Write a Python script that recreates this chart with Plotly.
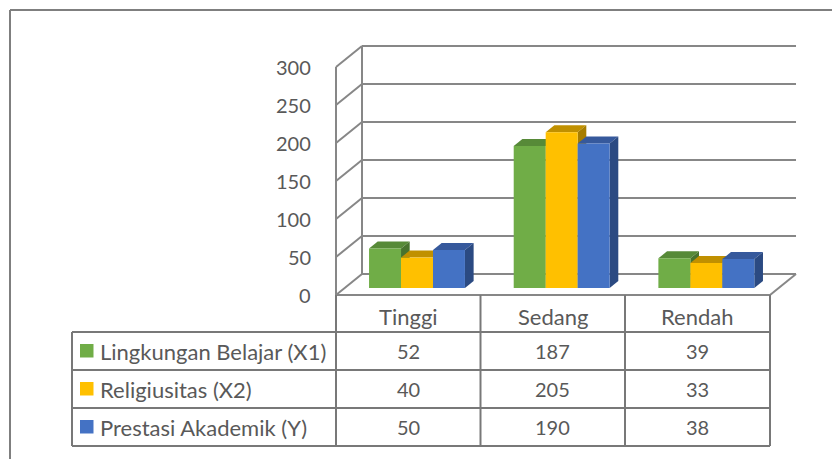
import plotly.graph_objects as go

# ---- data ----
categories = ["Tinggi", "Sedang", "Rendah"]
series_names = ["Lingkungan Belajar (X1)", "Religiusitas (X2)", "Prestasi Akademik (Y)"]
lingkungan = [52, 187, 39]
religiusitas = [40, 205, 33]
prestasi = [50, 190, 38]
y_ticks = [0, 50, 100, 150, 200, 250, 300]

series_values = [lingkungan, religiusitas, prestasi]
front_colors = ["#70AD47", "#FFC000", "#4472C4"]
top_colors = ["#578A38", "#C09000", "#36599C"]
side_colors = ["#48732E", "#A67D00", "#2B4A82"]

# ---- geometry (pixels) ----
W, H = 832, 459
X0 = 336.0        # front-left corner of floor
CW = 144.67       # px per category
Y0 = 295.0        # front zero line
SY = 0.76         # px per value unit
DEPTH_PX_X, DEPTH_PX_Y = 26.0, 21.0

def ux(px):
    return (px - X0) / CW - 0.5

def vy(py):
    return (Y0 - py) / SY

DX = DEPTH_PX_X / CW
DY = DEPTH_PX_Y / SY
BW = 0.221
LINE = dict(color="#878787", width=2)
NUM = dict(family="Lato", size=20, color="#595959")
TXT = dict(family="Lato", size=22, color="#595959")

fig = go.Figure()
shapes = []
annotations = []

# walls / gridlines
xl, xr = -0.5, len(categories) - 0.5
for t in y_ticks:
    shapes.append(dict(type="line", xref="x", yref="y", x0=xl + DX, y0=t + DY, x1=xr + DX, y1=t + DY, line=LINE, layer="below"))
    shapes.append(dict(type="line", xref="x", yref="y", x0=xl, y0=t, x1=xl + DX, y1=t + DY, line=LINE, layer="below"))
    annotations.append(dict(xref="paper", yref="y", x=313 / W, y=t, text=str(t), showarrow=False, xanchor="right", yanchor="middle", font=NUM))
shapes.append(dict(type="line", xref="x", yref="y", x0=xl, y0=0, x1=xl, y1=y_ticks[-1], line=LINE, layer="below"))
shapes.append(dict(type="line", xref="x", yref="y", x0=xl + DX, y0=DY, x1=xl + DX, y1=y_ticks[-1] + DY, line=LINE, layer="below"))
shapes.append(dict(type="line", xref="x", yref="y", x0=xl, y0=0, x1=xr, y1=0, line=LINE, layer="below"))
shapes.append(dict(type="line", xref="x", yref="y", x0=xr, y0=0, x1=xr + DX, y1=DY, line=LINE, layer="below"))

# 3D bars: front faces as bars, top/side faces as shapes (painter order)
f0 = 1.0 / 3.0
bdx, bdy = DX / 3.0, DY / 3.0
base = DY * f0
offsets = [-BW, 0.0, BW]
for ci in range(len(categories)):
    for si in range(len(series_values)):
        v = series_values[si][ci]
        L = ci + offsets[si] + DX * f0 - BW / 2
        R = L + BW
        top = base + v
        shapes.append(dict(type="path", xref="x", yref="y", layer="below",
                           path=f"M {L},{top} L {R},{top} L {R + bdx},{top + bdy} L {L + bdx},{top + bdy} Z",
                           fillcolor=top_colors[si], line=dict(width=0)))
        shapes.append(dict(type="path", xref="x", yref="y", layer="below",
                           path=f"M {R},{base} L {R + bdx},{base + bdy} L {R + bdx},{top + bdy} L {R},{top} Z",
                           fillcolor=side_colors[si], line=dict(width=0)))

for si, name in enumerate(series_names):
    fig.add_trace(go.Bar(
        x=[ci + offsets[si] + DX * f0 for ci in range(len(categories))],
        y=series_values[si], base=base, width=BW, name=name,
        marker=dict(color=front_colors[si], line=dict(width=0)),
        showlegend=False, hoverinfo="skip"))

# ---- data table ----
def px(x):
    return x / W

def py(y):
    return 1 - y / H

TL = dict(color="#787878", width=2)
col_x = [336, 480.5, 625, 770]
row_y = [332, 370, 408, 446]
for y in row_y:
    shapes.append(dict(type="line", xref="paper", yref="paper", x0=px(72), x1=px(770), y0=py(y), y1=py(y), line=TL))
shapes.append(dict(type="line", xref="paper", yref="paper", x0=px(72), x1=px(72), y0=py(332), y1=py(446), line=TL))
for x in col_x:
    shapes.append(dict(type="line", xref="paper", yref="paper", x0=px(x), x1=px(x), y0=py(295), y1=py(446), line=TL))

for ci, c in enumerate(categories):
    cx = (col_x[ci] + col_x[ci + 1]) / 2
    annotations.append(dict(xref="paper", yref="paper", x=px(cx), y=py(316), text=c, showarrow=False, xanchor="center", yanchor="middle", font=TXT))
    for si in range(len(series_values)):
        ry = (row_y[si] + row_y[si + 1]) / 2
        annotations.append(dict(xref="paper", yref="paper", x=px(cx), y=py(ry), text=str(series_values[si][ci]), showarrow=False, xanchor="center", yanchor="middle", font=NUM))

for si, name in enumerate(series_names):
    ry = (row_y[si] + row_y[si + 1]) / 2
    shapes.append(dict(type="rect", xref="paper", yref="paper", x0=px(80), x1=px(93.5), y0=py(ry - 7), y1=py(ry + 6.5), fillcolor=front_colors[si], line=dict(width=0)))
    annotations.append(dict(xref="paper", yref="paper", x=px(98), y=py(ry), text=name, showarrow=False, xanchor="left", yanchor="middle", font=TXT))

# outer chart border (extends past right and bottom)
shapes.append(dict(type="line", xref="paper", yref="paper", x0=px(10), x1=px(840), y0=py(10), y1=py(10), line=dict(color="#7f7f7f", width=2)))
shapes.append(dict(type="line", xref="paper", yref="paper", x0=px(10), x1=px(10), y0=py(10), y1=py(470), line=dict(color="#7f7f7f", width=2)))

fig.update_layout(
    width=W, height=H, autosize=False,
    margin=dict(l=0, r=0, t=0, b=0),
    paper_bgcolor="white", plot_bgcolor="white",
    barmode="overlay",
    xaxis=dict(range=[ux(0), ux(W)], visible=False, fixedrange=True),
    yaxis=dict(range=[vy(H), vy(0)], visible=False, fixedrange=True),
    shapes=shapes, annotations=annotations,
    showlegend=False,
)
fig.write_html("out.html", config={"displayModeBar": False},
               post_script="document.body.style.margin='0';document.body.style.overflow='hidden';")
